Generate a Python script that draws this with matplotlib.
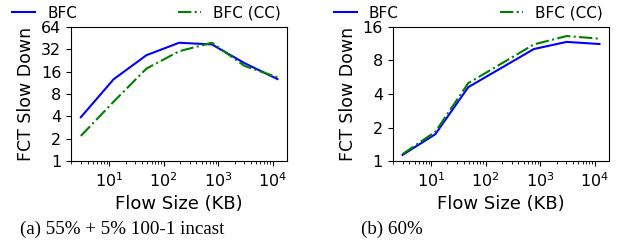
import matplotlib
matplotlib.use("Agg")
from matplotlib import pyplot as plt

# flow sizes in KB
sizes_a = [3, 12, 48, 192, 768, 3072, 12288]
bfc_a = [3.9, 12.6, 26.5, 39, 37, 20.7, 12.7]
bfc_cc_a = [2.19, 6.3, 17.5, 30, 39, 19, 13.4]

sizes_b = [3, 12, 48, 768, 3072, 12288]
bfc_b = [1.14, 1.75, 4.6, 10.1, 11.7, 11.2]
bfc_cc_b = [1.16, 1.84, 5.0, 11.1, 13.2, 12.5]

yticks_a = [1, 2, 4, 8, 16, 32, 64]
yticks_b = [1, 2, 4, 8, 16]
captions = ["(a) 55% + 5% 100-1 incast", "(b) 60%"]

fig = plt.figure(figsize=(6.21, 2.48), dpi=100)
ax1 = fig.add_axes([0.1143, 0.3496, 0.3483, 0.5427])
ax2 = fig.add_axes([0.6324, 0.3496, 0.3488, 0.5427])

panels = [
    (ax1, sizes_a, bfc_a, bfc_cc_a, yticks_a),
    (ax2, sizes_b, bfc_b, bfc_cc_b, yticks_b),
]

for ax, xs, b, cc, yt in panels:
    ax.plot(xs, b, color="b", lw=1.5, label="BFC")
    ax.plot(xs, cc, color="g", ls="-.", lw=1.5, label="BFC (CC)")
    ax.set_xscale("log")
    ax.set_yscale("log", base=2)
    ax.set_ylim(yt[0], yt[-1])
    ax.set_yticks(yt)
    ax.set_yticklabels([str(v) for v in yt])
    ax.minorticks_on()
    ax.tick_params(axis="y", which="minor", left=False)
    ax.tick_params(labelsize=11.5)
    ax.set_xlabel("Flow Size (KB)", fontsize=13)
    ax.set_ylabel("FCT Slow Down", fontsize=12.5)
    ax.legend(ncol=2, loc="lower left", bbox_to_anchor=(-0.30, 1.0, 1.30, 0.1),
              mode="expand", frameon=False, fontsize=11, handlelength=1.5,
              borderaxespad=0.0)

fig.text(0.033, 0.055, captions[0], family="Liberation Serif", fontsize=13.7)
fig.text(0.581, 0.055, captions[1], family="Liberation Serif", fontsize=13.7)

fig.savefig("out.png", dpi=100)
